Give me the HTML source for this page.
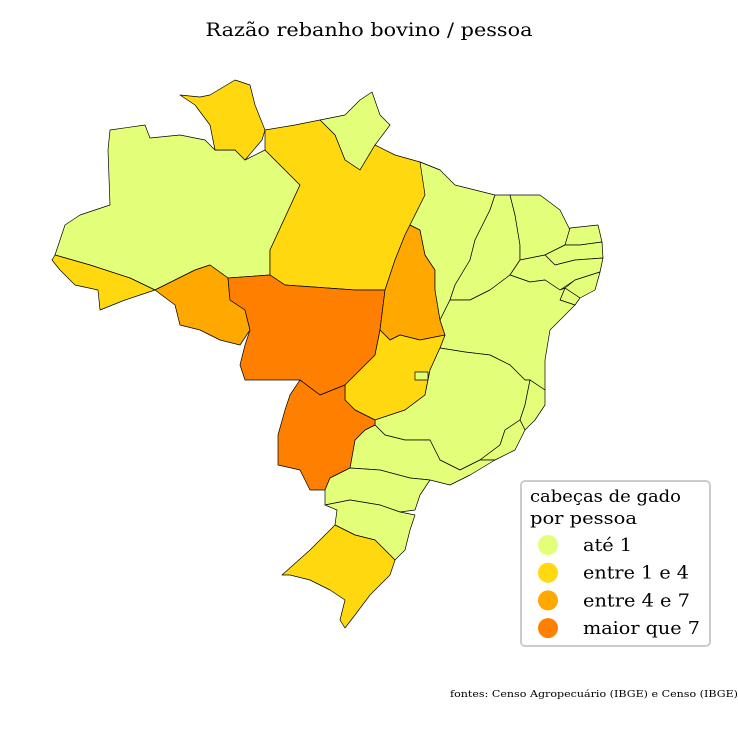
<!DOCTYPE html>
<html><head><meta charset="utf-8"><style>
body{margin:0;background:#fff}
svg{display:block;font-family:"DejaVu Serif","Liberation Serif",serif}
</style></head><body>
<svg id="chart" width="738" height="738" viewBox="0 0 738 738">
<text x="369" y="36" text-anchor="middle" font-size="19" textLength="327" lengthAdjust="spacingAndGlyphs">Razão rebanho bovino / pessoa</text>
<g id="map"></g>
<g>
<rect x="521" y="481" width="189" height="165" rx="4" fill="#fff" stroke="#ccc" stroke-width="2"/>
<text x="530" y="502" font-size="17" textLength="151" lengthAdjust="spacingAndGlyphs">cabeças de gado</text>
<text x="530" y="524" font-size="17" textLength="107" lengthAdjust="spacingAndGlyphs">por pessoa</text>
<g id="legitems"></g>
</g>
<text x="738" y="697" text-anchor="end" font-size="9" textLength="288" lengthAdjust="spacingAndGlyphs">fontes: Censo Agropecuário (IBGE) e Censo (IBGE)</text>
</svg>
<script>
const categories=["até 1","entre 1 e 4","entre 4 e 7","maior que 7"];
const labelWidths=[49,106,107,117];
const colors=["#e3ff7a","#ffd810","#ffa800","#ff8000"];
const states=["AM","AC","RR","AP","PA","RO","MT","TO","MA","PI","CE","RN","PB","PE","AL","SE","BA","GO","DF","MG","ES","RJ","SP","MS","PR","SC","RS"];
const ratios=[0.4,1.3,1.5,0.2,2.7,5.3,9.0,5.6,0.9,0.5,0.3,0.3,0.3,0.2,0.4,0.5,0.7,3.4,0.1,1.0,0.5,0.1,0.3,8.2,0.9,0.6,1.2];
const shapes={
AM:"110,130 145,125 150,138 180,135 205,140 215,150 235,150 245,160 265,150 300,185 270,250 270,275 228,278 210,265 195,270 175,280 155,290 130,278 90,265 55,255 65,225 80,215 110,205 108,150",
AC:"55,255 90,265 130,278 155,290 140,295 125,300 100,310 98,290 75,285 60,270 52,260",
RR:"180,95 200,97 210,95 235,80 250,85 255,105 265,130 262,140 245,160 235,150 215,150 210,125 195,105",
AP:"320,120 345,115 360,100 372,92 380,115 390,125 375,145 360,170 345,160 335,135",
PA:"265,130 295,125 320,120 335,135 345,160 360,170 375,145 395,155 420,162 440,170 425,195 415,215 405,235 395,260 385,290 355,290 285,285 270,275 270,250 300,185 265,150",
RO:"155,290 175,280 195,270 210,265 228,278 230,300 245,310 250,330 240,345 220,340 200,330 180,325 175,305",
MT:"228,278 270,275 285,285 355,290 385,290 380,330 375,355 360,370 345,385 320,395 300,380 245,380 240,365 245,345 250,330 245,310 230,300",
TO:"405,235 410,225 420,230 425,255 435,270 435,290 440,320 445,335 420,340 400,335 390,340 380,330 385,290 395,260",
MA:"420,162 440,170 455,185 475,190 495,195 490,210 475,240 470,260 455,285 450,300 440,320 435,290 435,270 425,255 420,230 410,225 415,215 425,195",
PI:"495,195 510,195 515,215 520,245 520,260 510,275 490,290 470,300 450,300 455,285 470,260 475,240 490,210",
CE:"510,195 540,195 560,210 570,230 565,245 545,255 520,260 520,245 515,215",
RN:"570,228 598,225 602,242 580,245 565,245",
PB:"545,255 565,245 580,245 602,242 603,258 575,260 555,265",
PE:"520,260 545,255 555,265 575,260 603,258 600,272 575,280 560,290 545,280 530,282 510,275",
AL:"575,280 600,272 595,290 580,298 565,288",
SE:"565,288 580,298 575,305 560,300",
BA:"510,275 530,282 545,280 560,290 565,288 560,300 575,305 550,330 545,360 545,390 530,380 525,380 510,365 490,355 465,352 440,348 445,335 440,320 450,300 470,300 490,290",
GO:"380,330 390,340 400,335 420,340 445,335 440,348 430,370 425,395 405,410 375,420 355,410 345,400 345,385 360,370 375,355",
DF:"415,372 428,372 428,380 415,380",
MG:"440,348 465,352 490,355 510,365 525,380 530,380 525,405 520,420 505,430 500,445 480,460 460,470 440,460 430,440 405,440 385,435 375,425 375,420 405,410 425,395 430,370",
ES:"530,380 545,390 545,405 535,420 525,430 520,420 525,405",
RJ:"505,430 520,420 525,430 515,450 495,460 480,460 500,445",
SP:"375,425 385,435 405,440 430,440 440,460 460,470 480,460 495,460 470,475 450,485 430,480 410,478 380,470 350,468 355,440 365,430",
MS:"300,380 320,395 345,385 345,400 355,410 375,420 375,425 365,430 355,440 350,468 330,478 325,490 310,490 300,470 278,465 278,435 285,410 290,395",
PR:"350,468 380,470 410,478 430,480 420,495 415,510 400,512 380,505 350,500 325,505 325,490 330,478",
SC:"325,505 350,500 380,505 400,512 415,515 410,530 405,550 395,560 375,540 355,535 335,525 337,510",
RS:"335,525 355,535 375,540 395,560 390,575 370,595 355,615 345,628 340,620 345,600 330,590 310,580 290,575 282,575 310,550"
};
function classOf(v){return v<=1?0:v<=4?1:v<=7?2:3;}
const ns="http://www.w3.org/2000/svg";
const map=document.getElementById('map');
states.forEach((s,i)=>{
 const p=document.createElementNS(ns,'polygon');
 p.setAttribute('points',shapes[s]);
 p.setAttribute('fill',colors[classOf(ratios[i])]);
 p.setAttribute('stroke','#000');
 p.setAttribute('stroke-width','0.7');
 p.setAttribute('stroke-linejoin','round');
 
 
 map.appendChild(p);
});
const leg=document.getElementById('legitems');
categories.forEach((c,i)=>{
 const y=545+i*27.7;
 const cir=document.createElementNS(ns,'circle');
 cir.setAttribute('cx',548);cir.setAttribute('cy',y);cir.setAttribute('r',10);
 cir.setAttribute('fill',colors[i]);
 
 
 leg.appendChild(cir);
 const t=document.createElementNS(ns,'text');
 t.setAttribute('x',583);t.setAttribute('y',y+6);t.setAttribute('font-size','18');
 t.setAttribute('textLength',labelWidths[i]);t.setAttribute('lengthAdjust','spacingAndGlyphs');
 t.textContent=c;
 
 
 leg.appendChild(t);
});
</script>
</body></html>
